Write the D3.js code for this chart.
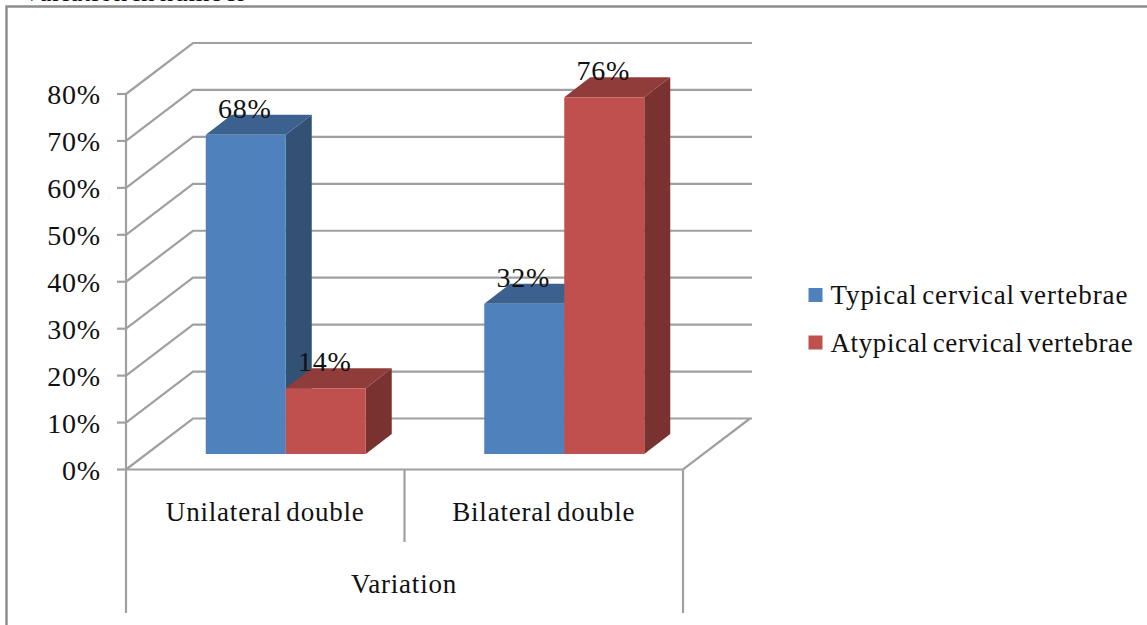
<!DOCTYPE html>
<html>
<head>
<meta charset="utf-8">
<script src="https://cdn.jsdelivr.net/npm/d3@7"></script>
<style>
  body { margin: 0; background: #fff; }
  svg { display: block; }
  text { font-family: "Liberation Serif", serif; fill: #111; letter-spacing: 0.8px; word-spacing: -3px; }
</style>
</head>
<body>
<script>
var categories = ["Unilateral double", "Bilateral double"];
var seriesNames = ["Typical cervical vertebrae", "Atypical cervical vertebrae"];
var typical = [68, 32];
var atypical = [14, 76];
var yTicks = [0, 10, 20, 30, 40, 50, 60, 70, 80];
var axisTitle = "Variation";
var clippedTitle = "Variation in number";

var WIDTH = 1147;
var HEIGHT = 625;
var BACK_DX = 67, BACK_DY = -51;
var BAR_DX = 26, BAR_DY = -20;
var BAR_W = 80;
var BAR_SHIFT_X = 20.5, BAR_SHIFT_Y = -15.5;

var GRID = "#a0a0a0";
var colors = [
  {front: "#4f81bd", top: "#3c618e", side: "#325175"},
  {front: "#c0504d", top: "#903c3a", side: "#7a3230"}
];

var svg = d3.select("body").append("svg")
  .attr("width", WIDTH)
  .attr("height", HEIGHT);

var xScale = d3.scaleBand().domain(categories).range([126, 683]);
var yScale = d3.scaleLinear().domain([0, 80]).range([469.5, 94]);

var fmt = function (d) { return d + "%"; };

// frame and the cut off title above it
svg.append("text")
  .attr("x", 22).attr("y", 0.5)
  .attr("font-size", 27)
  .text(clippedTitle);

svg.append("path")
  .attr("d", "M6.5,625V6.5H1147")
  .attr("fill", "none")
  .attr("stroke", "#8c8c8c")
  .attr("stroke-width", 2.4);

// walls
var grid = svg.append("g").attr("fill", "none").attr("stroke", GRID).attr("stroke-width", 2.2);

yTicks.forEach(function (t) {
  var y = yScale(t);
  grid.append("path").attr("d", d3.line()([
    [126, y], [126 + BACK_DX, y + BACK_DY], [752, y + BACK_DY]
  ]));
});

// floor
var x1 = xScale.range()[1];
grid.append("path").attr("d", d3.line()([
  [126, yScale(0)], [x1, yScale(0)], [x1 + BACK_DX, yScale(0) + BACK_DY]
]));

// value axis
grid.append("line")
  .attr("x1", 126).attr("x2", 126)
  .attr("y1", yScale(80)).attr("y2", 613);
grid.selectAll(".tick")
  .data(yTicks).enter().append("line")
  .attr("class", "tick")
  .attr("x1", 117).attr("x2", 126)
  .attr("y1", yScale).attr("y2", yScale);

// category separators
grid.append("line")
  .attr("x1", xScale(categories[1])).attr("x2", xScale(categories[1]))
  .attr("y1", yScale(0)).attr("y2", 542);
grid.append("line")
  .attr("x1", x1).attr("x2", x1)
  .attr("y1", yScale(0)).attr("y2", 613);

svg.selectAll(".ylabel")
  .data(yTicks).enter().append("text")
  .attr("class", "ylabel")
  .attr("x", 101).attr("y", function (d) { return yScale(d) + 10; })
  .attr("text-anchor", "end")
  .attr("font-size", 28)
  .text(fmt);

// bars, back ones first so the depth faces overlap properly
function drawBar(g, cat, value, s) {
  var center = xScale(cat) + xScale.bandwidth() / 2 + BAR_SHIFT_X;
  var x0 = s === 0 ? center - BAR_W : center;
  var x2 = x0 + BAR_W;
  var yb = yScale(0) + BAR_SHIFT_Y;
  var yt = yScale(value) + BAR_SHIFT_Y;
  var c = colors[s];
  var poly = d3.line();
  g.append("path").attr("fill", c.side).attr("d", poly([
    [x2, yb], [x2 + BAR_DX, yb + BAR_DY], [x2 + BAR_DX, yt + BAR_DY], [x2, yt]
  ]) + "Z");
  g.append("path").attr("fill", c.top).attr("d", poly([
    [x0, yt], [x0 + BAR_DX, yt + BAR_DY], [x2 + BAR_DX, yt + BAR_DY], [x2, yt]
  ]) + "Z");
  g.append("rect").attr("fill", c.front)
    .attr("x", x0).attr("y", yt)
    .attr("width", BAR_W).attr("height", yb - yt);
  return {x: x0 + BAR_W / 2 - 1, y: yt - 17};
}

var bars = svg.append("g");
var labels = [];
categories.forEach(function (cat, i) {
  [typical[i], atypical[i]].forEach(function (v, s) {
    var p = drawBar(bars, cat, v, s);
    labels.push({x: p.x, y: p.y, v: v});
  });
});

svg.selectAll(".dlabel")
  .data(labels).enter().append("text")
  .attr("class", "dlabel")
  .attr("x", function (d) { return d.x; })
  .attr("y", function (d) { return d.y; })
  .attr("text-anchor", "middle")
  .attr("font-size", 28)
  .text(function (d) { return fmt(d.v); });

// category labels
svg.selectAll(".cat")
  .data(categories).enter().append("text")
  .attr("class", "cat")
  .attr("x", function (d) { return xScale(d) + xScale.bandwidth() / 2; })
  .attr("y", 521)
  .attr("text-anchor", "middle")
  .attr("font-size", 27)
  .text(function (d) { return d; });

svg.append("text")
  .attr("x", 404).attr("y", 593)
  .attr("text-anchor", "middle")
  .attr("font-size", 27)
  .text(axisTitle);

// legend
var legend = svg.selectAll(".legend")
  .data(seriesNames).enter().append("g")
  .attr("class", "legend")
  .attr("transform", function (d, i) { return "translate(808.5," + (288 + i * 47.5) + ")"; });

legend.append("rect")
  .attr("width", 14).attr("height", 14)
  .attr("fill", function (d, i) { return colors[i].front; });

legend.append("text")
  .attr("x", 22).attr("y", 16)
  .attr("font-size", 27)
  .style("letter-spacing", function (d, i) { return i === 0 ? "0.92px" : "0.61px"; })
  .text(function (d) { return d; });
</script>
</body>
</html>
